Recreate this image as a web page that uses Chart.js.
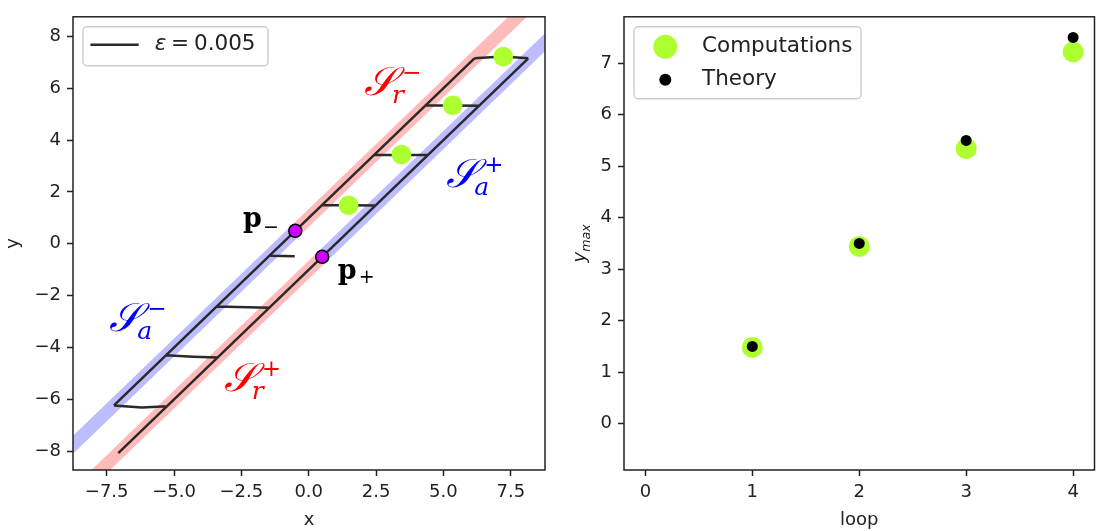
<!DOCTYPE html>
<html>
<head>
<meta charset="utf-8">
<script src="https://cdn.jsdelivr.net/npm/chart.js@4.4.0/dist/chart.umd.min.js"></script>
<style>
  html, body { margin: 0; padding: 0; background: #fff; }
  #wrap { position: relative; width: 1105px; height: 531px; }
  canvas { position: absolute; top: 0; }
  #left { left: 0; }
  #right { left: 555px; }
</style>
</head>
<body>
<div id="wrap">
  <canvas id="left" width="555" height="531"></canvas>
  <canvas id="right" width="550" height="531"></canvas>
</div>
<script>
// ---- left panel data ----
const xTicksL = [-7.5, -5, -2.5, 0, 2.5, 5, 7.5];
const yTicksL = [-8, -6, -4, -2, 0, 2, 4, 6, 8];

// slow manifold branches (bands)
const saMinusX = [-10, -0.5], saMinusY = [-9, 0.5];
const srMinusX = [-0.5, 10], srMinusY = [0.5, 11];
const srPlusX = [-10, 0.5], srPlusY = [-11, -0.5];
const saPlusX = [0.5, 10], saPlusY = [-0.5, 9];

// trajectory for eps = 0.005 (null = break)
const trajX = [-7.07, 8.15, null, -7.23, 6.15, null,
  -7.23, -6.2, -5.25, null, -5.3, -4.3, -3.38, null, -3.42, -1.47, null,
  -1.42, -0.52, null, 0.5, 2.48, null, 2.42, 4.42, null,
  4.34, 6.32, null, 6.15, 7.2, 8.15];
const trajY = [-8.07, 7.15, null, -6.23, 7.15, null,
  -6.23, -6.31, -6.26, null, -4.3, -4.35, -4.38, null, -2.42, -2.47, null,
  -0.46, -0.48, null, 1.5, 1.48, null, 3.42, 3.42, null,
  5.34, 5.32, null, 7.15, 7.22, 7.15];

const foldX = [-0.5, 0.5], foldY = [0.5, -0.5];

// ---- right panel data ----
const loops = [1, 2, 3, 4];
const computations = [1.48, 3.44, 5.34, 7.22];
const theory = [1.5, 3.5, 5.5, 7.5];
const xTicksR = [0, 1, 2, 3, 4];
const yTicksR = [0, 1, 2, 3, 4, 5, 6, 7];

const FONT = 'DejaVu Sans';
const INK = '#222';

function pts(xs, ys) {
  return xs.map((x, i) => ({ x: x, y: ys[i] }));
}
function minus(s) { return String(s).replace('-', '\u2212'); }

function axis(min, max, ticks, fmt, fixSize, isX, title, titlePad) {
  return {
    type: 'linear', min: min, max: max,
    afterBuildTicks: s => { s.ticks = ticks.map(v => ({ value: v })); },
    afterFit: s => { if (isX) s.height = fixSize; else s.width = fixSize; },
    grid: { drawOnChartArea: false, drawTicks: true, tickLength: 6, tickWidth: 1.5, tickColor: INK, color: INK },
    border: { display: false },
    ticks: { autoSkip: false, maxRotation: 0, padding: 6, color: INK,
      font: { family: FONT, size: 18 }, callback: fmt },
    title: { display: !!title, text: title, color: INK, font: { family: FONT, size: 18 }, padding: titlePad }
  };
}

const framePlugin = {
  id: 'frame',
  afterDatasetsDraw(chart) {
    const a = chart.chartArea, ctx = chart.ctx;
    ctx.save();
    ctx.strokeStyle = INK;
    ctx.lineWidth = 1.5;
    ctx.strokeRect(a.left, a.top, a.right - a.left, a.bottom - a.top);
    ctx.restore();
  }
};

function roundBox(ctx, x, y, w, h, r) {
  ctx.beginPath();
  ctx.moveTo(x + r, y);
  ctx.arcTo(x + w, y, x + w, y + h, r);
  ctx.arcTo(x + w, y + h, x, y + h, r);
  ctx.arcTo(x, y + h, x, y, r);
  ctx.arcTo(x, y, x + w, y, r);
  ctx.closePath();
}

// matplotlib-like legend box in the top-left corner
const legendPlugin = {
  id: 'mplLegend',
  afterDraw(chart, args, opts) {
    const a = chart.chartArea, ctx = chart.ctx;
    ctx.save();
    roundBox(ctx, a.left + opts.box[0], a.top + opts.box[1], opts.box[2], opts.box[3], 4);
    ctx.fillStyle = 'rgba(255,255,255,0.8)';
    ctx.fill();
    ctx.strokeStyle = '#cccccc';
    ctx.lineWidth = 1.4;
    ctx.stroke();
    opts.items.forEach(it => {
      const y = a.top + it.y;
      if (it.kind === 'line') {
        ctx.strokeStyle = it.color;
        ctx.lineWidth = 2.5;
        ctx.beginPath();
        ctx.moveTo(a.left + it.x0, y);
        ctx.lineTo(a.left + it.x1, y);
        ctx.stroke();
      } else {
        ctx.fillStyle = it.color;
        ctx.beginPath();
        ctx.arc(a.left + it.x0, y, it.r, 0, Math.PI * 2);
        ctx.fill();
      }
      ctx.fillStyle = INK;
      ctx.textBaseline = 'middle';
      it.text.forEach(t => {
        ctx.font = t.font;
        ctx.fillText(t.s, a.left + t.x, y);
      });
    });
    ctx.restore();
  }
};

// math-style labels placed at data coordinates
const labelPlugin = {
  id: 'mathLabels',
  afterDraw(chart, args, opts) {
    if (!opts.items) return;
    const ctx = chart.ctx, xs = chart.scales.x, ys = chart.scales.y;
    ctx.save();
    opts.items.forEach(it => {
      const px = xs.getPixelForValue(it.x), py = ys.getPixelForValue(it.y);
      ctx.fillStyle = it.color;
      it.parts.forEach(p => {
        ctx.font = p.font;
        ctx.textBaseline = p.mid ? 'middle' : 'alphabetic';
        ctx.fillText(p.s, px + p.dx, py + p.dy);
      });
    });
    ctx.restore();
  }
};

// y_max axis title with subscript
const ymaxPlugin = {
  id: 'ymaxTitle',
  afterDraw(chart, args, opts) {
    if (!opts.on) return;
    const ctx = chart.ctx, a = chart.chartArea;
    ctx.save();
    ctx.translate(30, (a.top + a.bottom) / 2);
    ctx.rotate(-Math.PI / 2);
    ctx.fillStyle = INK;
    ctx.textBaseline = 'alphabetic';
    ctx.font = 'italic 18px ' + FONT;
    const w1 = ctx.measureText('y').width;
    ctx.font = 'italic 12.6px ' + FONT;
    const w2 = ctx.measureText('max').width;
    const x0 = -(w1 + w2) / 2;
    ctx.font = 'italic 18px ' + FONT;
    ctx.fillText('y', x0, 0);
    ctx.font = 'italic 12.6px ' + FONT;
    ctx.fillText('max', x0 + w1, 4.5);
    ctx.restore();
  }
};

const S = '\uD835\uDCAE';
const SF = 'italic 40px DejaVu Serif';
const subF = 'italic 25px DejaVu Serif';
const supF = '23px DejaVu Sans';
const pF = 'bold 27px DejaVu Serif';
const psF = '19px DejaVu Sans';

function sLabel(x, y, color, sub, sup) {
  return { x: x, y: y, color: color, parts: [
    { s: S, font: SF, dx: 0, dy: 0 },
    { s: sub, font: subF, dx: 28, dy: 8 },
    { s: sup, font: supF, dx: 38, dy: -21, mid: true }] };
}

new Chart(document.getElementById('left'), {
  type: 'scatter',
  data: {
    datasets: [
      { data: pts(foldX, foldY), pointRadius: 6.5, pointBackgroundColor: '#d000ff',
        pointBorderColor: '#000', pointBorderWidth: 1.5, order: 0, clip: false },
      { data: pts(computations, computations), pointRadius: 9.8, pointBackgroundColor: '#adff2f',
        pointBorderWidth: 0, order: 1, clip: 0 },
      { data: pts(trajX, trajY), showLine: true, spanGaps: false, pointRadius: 0,
        borderColor: '#2a2a2a', borderWidth: 2.5, order: 2, clip: 0 },
      { data: pts(saMinusX, saMinusY), showLine: true, pointRadius: 0, borderColor: '#bcbcff',
        borderWidth: 13, borderCapStyle: 'butt', order: 3, clip: 0 },
      { data: pts(srMinusX, srMinusY), showLine: true, pointRadius: 0, borderColor: '#ffbaba',
        borderWidth: 13, borderCapStyle: 'butt', order: 3, clip: 0 },
      { data: pts(srPlusX, srPlusY), showLine: true, pointRadius: 0, borderColor: '#ffbaba',
        borderWidth: 13, borderCapStyle: 'butt', order: 3, clip: 0 },
      { data: pts(saPlusX, saPlusY), showLine: true, pointRadius: 0, borderColor: '#bcbcff',
        borderWidth: 13, borderCapStyle: 'butt', order: 3, clip: 0 }
    ]
  },
  options: {
    responsive: false, animation: false, events: [],
    layout: { padding: { top: 6, right: 10, left: 0, bottom: 0 } },
    scales: {
      x: axis(-8.75, 8.77, xTicksL, v => minus(v.toFixed(1)), 61, true, 'x', { top: 0, bottom: 0 }),
      y: axis(-8.72, 8.75, yTicksL, v => minus(v), 73, false, 'y', { top: 3, bottom: 0 })
    },
    plugins: {
      legend: { display: false }, tooltip: { enabled: false },
      mplLegend: {
        box: [10, 10, 185, 39],
        items: [{ kind: 'line', color: '#2a2a2a', x0: 17.4, x1: 65.7, y: 28,
          text: [{ s: '\u03B5', font: 'italic 21.5px ' + FONT, x: 81.7 },
                 { s: '=', font: '21.5px ' + FONT, x: 98 },
                 { s: '0.005', font: '21.5px ' + FONT, x: 121 }] }]
      },
      mathLabels: {
        items: [
          sLabel(2.05, 5.72, '#ff0000', 'r', '\u2212'),
          sLabel(5.1, 2.2, '#0000ff', 'a', '+'),
          sLabel(-7.4, -3.38, '#0000ff', 'a', '\u2212'),
          sLabel(-3.15, -5.68, '#ff0000', 'r', '+'),
          { x: -2.44, y: 0.66, color: '#000', parts: [
            { s: 'p', font: pF, dx: 0, dy: 0 }, { s: '\u2212', font: psF, dx: 20, dy: 1, mid: true }] },
          { x: 1.08, y: -1.36, color: '#000', parts: [
            { s: 'p', font: pF, dx: 0, dy: 0 }, { s: '+', font: psF, dx: 21, dy: -1, mid: true }] }
        ]
      }
    }
  },
  plugins: [framePlugin, legendPlugin, labelPlugin]
});

new Chart(document.getElementById('right'), {
  type: 'scatter',
  data: {
    datasets: [
      { label: 'Theory', data: pts(loops, theory), pointRadius: 5.5, pointBackgroundColor: '#000',
        pointBorderWidth: 0, order: 0 },
      { label: 'Computations', data: pts(loops, computations), pointRadius: 10.5,
        pointBackgroundColor: '#adff2f', pointBorderWidth: 0, order: 1 }
    ]
  },
  options: {
    responsive: false, animation: false, events: [],
    layout: { padding: { top: 6, right: 9, left: 0, bottom: 0 } },
    scales: {
      x: axis(-0.2, 4.2, xTicksR, v => String(v), 61, true, 'loop', { top: 0, bottom: 0 }),
      y: axis(-0.9, 7.9, yTicksR, v => String(v), 69, false, '', { top: 0, bottom: 0 })
    },
    plugins: {
      legend: { display: false }, tooltip: { enabled: false },
      ymaxTitle: { on: true },
      mplLegend: {
        box: [10, 10, 227, 72],
        items: [
          { kind: 'dot', color: '#adff2f', r: 12, x0: 41.3, y: 30,
            text: [{ s: 'Computations', font: '21.5px ' + FONT, x: 78 }] },
          { kind: 'dot', color: '#000', r: 6, x0: 41.3, y: 63,
            text: [{ s: 'Theory', font: '21.5px ' + FONT, x: 78 }] }
        ]
      }
    }
  },
  plugins: [framePlugin, legendPlugin, ymaxPlugin]
});
</script>
</body>
</html>
